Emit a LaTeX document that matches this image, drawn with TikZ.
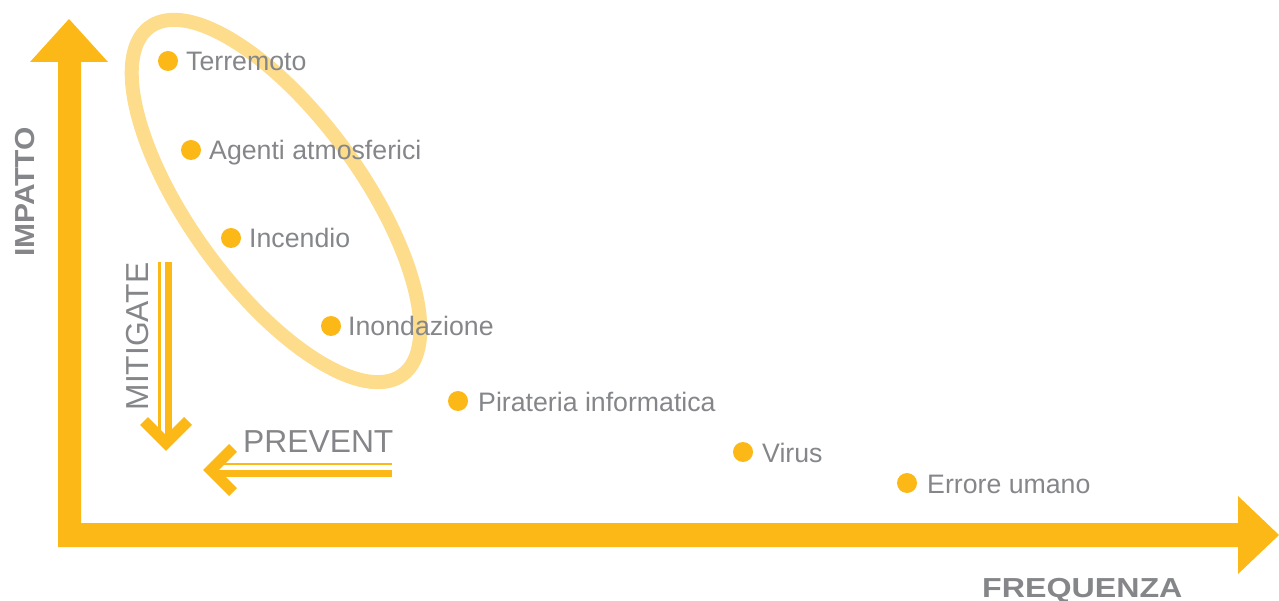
\documentclass[tikz,border=0pt]{standalone}
\usepackage{fontspec}
\setmainfont{Liberation Sans}
\definecolor{orng}{HTML}{FBB817}
\definecolor{lorng}{HTML}{FDDC8C}
\definecolor{txt}{HTML}{848689}
\begin{document}
\begin{tikzpicture}[x=1pt,y=-1pt,
  dot/.style={circle,fill=orng,inner sep=0pt,minimum size=20pt},
  lbl/.style={text=txt,font=\fontsize{26.7}{29}\selectfont,inner sep=0pt,anchor=base west},
  axlbl/.style={text=txt,font=\fontsize{27.5}{30}\selectfont\bfseries,inner sep=0pt},
  actlbl/.style={text=txt,font=\fontsize{31.8}{34}\selectfont,inner sep=0pt},
  chev/.style={draw=orng,line width=11pt,miter limit=10,line join=miter},
  thinln/.style={draw=orng,line width=2.5pt},
  thickln/.style={draw=orng,line width=7pt}]
\path[use as bounding box] (0,0) rectangle (1279,601);
% axes
\fill[orng] (58,547) -- (58,62) -- (30,62) -- (69,19) -- (108,62) -- (81,62) -- (81,523)
  -- (1238,523) -- (1238,496) -- (1279,535) -- (1238,574) -- (1238,547) -- cycle;
% ellipse
\draw[lorng,line width=14pt,shift={(276,201)},rotate=-54] (0,0) ellipse [x radius=215pt,y radius=86pt];
% points
\node[dot] (d1) at (168,61) {};
\node[lbl] (t1) at (186,71) {Terremoto};
\node[dot] (d2) at (191,150) {};
\node[lbl] (t2) at (209,160) {Agenti atmosferici};
\node[dot] (d3) at (231,238) {};
\node[lbl] (t3) at (249,248) {Incendio};
\node[dot] (d4) at (331,326) {};
\node[lbl] (t4) at (348,336) {Inondazione};
\node[dot] (d5) at (458,401) {};
\node[lbl] (t5) at (478,411) {Pirateria informatica};
\node[dot] (d6) at (743,452) {};
\node[lbl] (t6) at (762,462) {Virus};
\node[dot] (d7) at (907,483) {};
\node[lbl] (t7) at (927,493) {Errore umano};
% axis labels
\node[axlbl,rotate=90,anchor=base,xscale=1.09] (imp) at (34,192) {IMPATTO};
\node[axlbl,anchor=base west,xscale=1.17] (freq) at (982,597) {FREQUENZA};
% mitigate
\node[actlbl,rotate=90,anchor=base] (mit) at (148,336.5) {MITIGATE};
\coordinate (m1) at (159.5,262);
\coordinate (m2) at (159.5,436);
\coordinate (m3) at (168,262);
\coordinate (m4) at (168,442);
\draw[thinln] (m1) -- (m2);
\draw[thickln] (m3) -- (m4);
\coordinate (mc) at (166,443);
\draw[chev] (144,421) -- (mc) -- (188,421);
% prevent
\node[actlbl,anchor=base west] (prev) at (243,452) {PREVENT};
\coordinate (p1) at (392,464);
\coordinate (p2) at (222,464);
\coordinate (p3) at (392,473.5);
\coordinate (p4) at (212,473.5);
\draw[thinln] (p1) -- (p2);
\draw[thickln] (p3) -- (p4);
\coordinate (pc) at (211,470);
\draw[chev] (233,448) -- (pc) -- (233,492);
\end{tikzpicture}
\end{document}
